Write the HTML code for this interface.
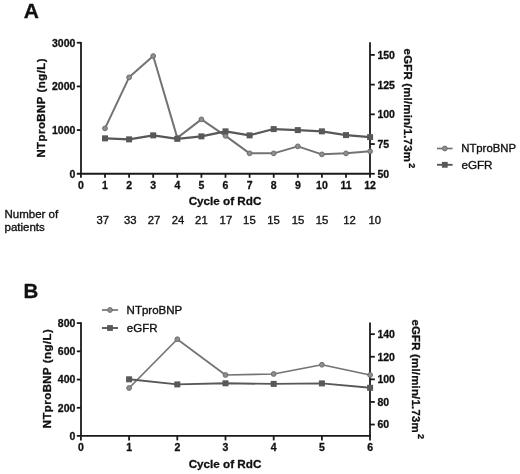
<!DOCTYPE html>
<html><head><meta charset="utf-8"><title>Figure</title>
<style>
html,body{margin:0;padding:0;background:#fff;}
body{width:520px;height:474px;overflow:hidden;font-family:"Liberation Sans",sans-serif;}
svg{display:block;will-change:transform;filter:blur(0.45px);}
text{font-family:"Liberation Sans",sans-serif;fill:#111;stroke:#111;stroke-width:0.3px;}
.b{font-weight:bold;}
.tk{font-weight:bold;font-size:10.5px;}
.lb{font-weight:bold;font-size:11.7px;font-kerning:none;}
.lg{font-size:11.3px;stroke-width:0.35px;}
.nm{font-size:11.3px;stroke-width:0.35px;}
.pl{font-weight:bold;font-size:20px;}
</style></head><body>
<svg width="520" height="474" viewBox="0 0 520 474">
<rect width="520" height="474" fill="#fff"/>

<text class="pl" x="23.8" y="18.3" style="font-size:21px">A</text>
<g stroke="#1a1a1a" stroke-width="1.8" fill="none">
<path d="M81 41.9 V173.8"/>
<path d="M76.8 173.75 H371"/>
<path d="M370 42.2 V177.8"/>
<path d="M76.8 130.08 H81"/>
<path d="M76.8 86.41 H81"/>
<path d="M76.8 42.74 H81"/>
<path d="M80.90 173.4 V177.8"/>
<path d="M105.00 173.4 V177.8"/>
<path d="M129.10 173.4 V177.8"/>
<path d="M153.20 173.4 V177.8"/>
<path d="M177.30 173.4 V177.8"/>
<path d="M201.40 173.4 V177.8"/>
<path d="M225.50 173.4 V177.8"/>
<path d="M249.60 173.4 V177.8"/>
<path d="M273.70 173.4 V177.8"/>
<path d="M297.80 173.4 V177.8"/>
<path d="M321.90 173.4 V177.8"/>
<path d="M346.00 173.4 V177.8"/>
<path d="M370 173.75 H374.8"/>
<path d="M370 144.04 H374.8"/>
<path d="M370 114.33 H374.8"/>
<path d="M370 84.62 H374.8"/>
<path d="M370 54.91 H374.8"/>
</g>
<text class="tk" x="75.4" y="177.65" text-anchor="end">0</text>
<text class="tk" x="75.4" y="133.98" text-anchor="end">1000</text>
<text class="tk" x="75.4" y="90.31" text-anchor="end">2000</text>
<text class="tk" x="75.4" y="46.64" text-anchor="end">3000</text>
<text class="tk" x="80.90" y="189" text-anchor="middle">0</text>
<text class="tk" x="105.00" y="189" text-anchor="middle">1</text>
<text class="tk" x="129.10" y="189" text-anchor="middle">2</text>
<text class="tk" x="153.20" y="189" text-anchor="middle">3</text>
<text class="tk" x="177.30" y="189" text-anchor="middle">4</text>
<text class="tk" x="201.40" y="189" text-anchor="middle">5</text>
<text class="tk" x="225.50" y="189" text-anchor="middle">6</text>
<text class="tk" x="249.60" y="189" text-anchor="middle">7</text>
<text class="tk" x="273.70" y="189" text-anchor="middle">8</text>
<text class="tk" x="297.80" y="189" text-anchor="middle">9</text>
<text class="tk" x="321.90" y="189" text-anchor="middle">10</text>
<text class="tk" x="346.00" y="189" text-anchor="middle">11</text>
<text class="tk" x="370.10" y="189" text-anchor="middle">12</text>
<text class="tk" x="377.4" y="177.65">50</text>
<text class="tk" x="377.4" y="147.94">75</text>
<text class="tk" x="377.4" y="118.23">100</text>
<text class="tk" x="377.4" y="88.52">125</text>
<text class="tk" x="377.4" y="58.81">150</text>
<text class="lb" transform="translate(45.3 107.8) rotate(-90)" text-anchor="middle" style="font-size:11.4px;letter-spacing:0.48px">NTproBNP (ng/L)</text>
<text class="lb" x="225" y="205" text-anchor="middle">Cycle of RdC</text>
<text class="lb" transform="translate(403.9 48.6) rotate(90)" style="font-size:11.4px;letter-spacing:0.22px">eGFR (ml/min/1.73m<tspan dx="1.2" dy="-5.2" style="font-size:9px">2</tspan></text>
<polyline points="105.00,128.35 129.10,77.35 153.20,56.05 177.30,137.85 201.40,119.35 225.50,135.85 249.60,153.35 273.70,153.35 297.80,146.35 321.90,154.35 346.00,153.35 370.10,151.35" fill="none" stroke="#737373" stroke-width="2.0" stroke-linejoin="round"/>
<circle cx="105.00" cy="128.35" r="2.4" fill="#8e8e8e" stroke="#6e6e6e" stroke-width="1"/>
<circle cx="129.10" cy="77.35" r="2.4" fill="#8e8e8e" stroke="#6e6e6e" stroke-width="1"/>
<circle cx="153.20" cy="56.05" r="2.4" fill="#8e8e8e" stroke="#6e6e6e" stroke-width="1"/>
<circle cx="177.30" cy="137.85" r="2.4" fill="#8e8e8e" stroke="#6e6e6e" stroke-width="1"/>
<circle cx="201.40" cy="119.35" r="2.4" fill="#8e8e8e" stroke="#6e6e6e" stroke-width="1"/>
<circle cx="225.50" cy="135.85" r="2.4" fill="#8e8e8e" stroke="#6e6e6e" stroke-width="1"/>
<circle cx="249.60" cy="153.35" r="2.4" fill="#8e8e8e" stroke="#6e6e6e" stroke-width="1"/>
<circle cx="273.70" cy="153.35" r="2.4" fill="#8e8e8e" stroke="#6e6e6e" stroke-width="1"/>
<circle cx="297.80" cy="146.35" r="2.4" fill="#8e8e8e" stroke="#6e6e6e" stroke-width="1"/>
<circle cx="321.90" cy="154.35" r="2.4" fill="#8e8e8e" stroke="#6e6e6e" stroke-width="1"/>
<circle cx="346.00" cy="153.35" r="2.4" fill="#8e8e8e" stroke="#6e6e6e" stroke-width="1"/>
<circle cx="370.10" cy="151.35" r="2.4" fill="#8e8e8e" stroke="#6e6e6e" stroke-width="1"/>
<polyline points="105.00,138.35 129.10,139.35 153.20,135.35 177.30,138.85 201.40,136.35 225.50,131.35 249.60,135.35 273.70,129.10 297.80,130.10 321.90,131.35 346.00,135.10 370.10,137.10" fill="none" stroke="#585858" stroke-width="2.1" stroke-linejoin="round"/>
<rect x="102.00" y="135.35" width="6" height="6" fill="#585858"/>
<rect x="126.10" y="136.35" width="6" height="6" fill="#585858"/>
<rect x="150.20" y="132.35" width="6" height="6" fill="#585858"/>
<rect x="174.30" y="135.85" width="6" height="6" fill="#585858"/>
<rect x="198.40" y="133.35" width="6" height="6" fill="#585858"/>
<rect x="222.50" y="128.35" width="6" height="6" fill="#585858"/>
<rect x="246.60" y="132.35" width="6" height="6" fill="#585858"/>
<rect x="270.70" y="126.10" width="6" height="6" fill="#585858"/>
<rect x="294.80" y="127.10" width="6" height="6" fill="#585858"/>
<rect x="318.90" y="128.35" width="6" height="6" fill="#585858"/>
<rect x="343.00" y="132.10" width="6" height="6" fill="#585858"/>
<rect x="367.10" y="134.10" width="6" height="6" fill="#585858"/>
<path d="M437 148.5 H452.6" stroke="#737373" stroke-width="1.7"/><circle cx="444.8" cy="148.5" r="2.4" fill="#8e8e8e" stroke="#6e6e6e" stroke-width="1"/>
<path d="M437 164.8 H452.6" stroke="#585858" stroke-width="1.9"/><rect x="441.9" y="161.9" width="5.8" height="5.8" fill="#585858"/>
<text class="lg" x="461.2" y="152.2" style="font-size:11.35px">NTproBNP</text>
<text class="lg" x="461.4" y="168.8" style="font-size:11.7px">eGFR</text>
<text class="nm" x="4.5" y="217.6" style="font-size:11.5px">Number of</text>
<text class="nm" x="4.5" y="230.6" style="font-size:11.5px">patients</text>
<text class="nm" x="102.75" y="223.8" text-anchor="middle">37</text>
<text class="nm" x="130.25" y="223.8" text-anchor="middle">33</text>
<text class="nm" x="154.00" y="223.8" text-anchor="middle">27</text>
<text class="nm" x="178.10" y="223.8" text-anchor="middle">24</text>
<text class="nm" x="201.40" y="223.8" text-anchor="middle">21</text>
<text class="nm" x="225.90" y="223.8" text-anchor="middle">17</text>
<text class="nm" x="249.40" y="223.8" text-anchor="middle">15</text>
<text class="nm" x="273.50" y="223.8" text-anchor="middle">15</text>
<text class="nm" x="298.10" y="223.8" text-anchor="middle">15</text>
<text class="nm" x="322.10" y="223.8" text-anchor="middle">15</text>
<text class="nm" x="349.60" y="223.8" text-anchor="middle">12</text>
<text class="nm" x="374.75" y="223.8" text-anchor="middle">10</text>
<text class="pl" x="23.4" y="298.2" style="font-size:20.5px">B</text>
<g stroke="#1a1a1a" stroke-width="1.8" fill="none">
<path d="M81 322.2 V436"/>
<path d="M76.8 435.85 H371"/>
<path d="M370 322.4 V440.4"/>
<path d="M76.8 407.78 H81"/>
<path d="M76.8 379.56 H81"/>
<path d="M76.8 351.34 H81"/>
<path d="M76.8 323.12 H81"/>
<path d="M80.90 436 V440.4"/>
<path d="M129.10 436 V440.4"/>
<path d="M177.30 436 V440.4"/>
<path d="M225.50 436 V440.4"/>
<path d="M273.70 436 V440.4"/>
<path d="M321.90 436 V440.4"/>
<path d="M370 424.55 H374.8"/>
<path d="M370 401.95 H374.8"/>
<path d="M370 379.35 H374.8"/>
<path d="M370 356.75 H374.8"/>
<path d="M370 334.15 H374.8"/>
</g>
<text class="tk" x="75.4" y="439.90" text-anchor="end">0</text>
<text class="tk" x="75.4" y="411.68" text-anchor="end">200</text>
<text class="tk" x="75.4" y="383.46" text-anchor="end">400</text>
<text class="tk" x="75.4" y="355.24" text-anchor="end">600</text>
<text class="tk" x="75.4" y="327.02" text-anchor="end">800</text>
<text class="tk" x="80.90" y="450.9" text-anchor="middle">0</text>
<text class="tk" x="129.10" y="450.9" text-anchor="middle">1</text>
<text class="tk" x="177.30" y="450.9" text-anchor="middle">2</text>
<text class="tk" x="225.50" y="450.9" text-anchor="middle">3</text>
<text class="tk" x="273.70" y="450.9" text-anchor="middle">4</text>
<text class="tk" x="321.90" y="450.9" text-anchor="middle">5</text>
<text class="tk" x="370.10" y="450.9" text-anchor="middle">6</text>
<text class="tk" x="377.4" y="428.45">60</text>
<text class="tk" x="377.4" y="405.85">80</text>
<text class="tk" x="377.4" y="383.25">100</text>
<text class="tk" x="377.4" y="360.65">120</text>
<text class="tk" x="377.4" y="338.05">140</text>
<text class="lb" transform="translate(50.8 378.5) rotate(-90)" text-anchor="middle" style="font-size:11.4px;letter-spacing:0.48px">NTproBNP (ng/L)</text>
<text class="lb" x="225" y="467.8" text-anchor="middle">Cycle of RdC</text>
<text class="lb" transform="translate(412.2 319.4) rotate(90)" style="font-size:11.4px;letter-spacing:0.22px">eGFR (ml/min/1.73m<tspan dx="1.2" dy="-5.8" style="font-size:9px">2</tspan></text>
<polyline points="129.10,388.00 177.30,339.25 225.50,375.00 273.70,374.00 321.90,364.75 370.10,375.00" fill="none" stroke="#737373" stroke-width="1.7" stroke-linejoin="round"/>
<circle cx="129.10" cy="388.00" r="2.4" fill="#8e8e8e" stroke="#6e6e6e" stroke-width="1"/>
<circle cx="177.30" cy="339.25" r="2.4" fill="#8e8e8e" stroke="#6e6e6e" stroke-width="1"/>
<circle cx="225.50" cy="375.00" r="2.4" fill="#8e8e8e" stroke="#6e6e6e" stroke-width="1"/>
<circle cx="273.70" cy="374.00" r="2.4" fill="#8e8e8e" stroke="#6e6e6e" stroke-width="1"/>
<circle cx="321.90" cy="364.75" r="2.4" fill="#8e8e8e" stroke="#6e6e6e" stroke-width="1"/>
<circle cx="370.10" cy="375.00" r="2.4" fill="#8e8e8e" stroke="#6e6e6e" stroke-width="1"/>
<polyline points="129.10,379.30 177.30,384.40 225.50,383.30 273.70,383.90 321.90,383.40 370.10,387.80" fill="none" stroke="#585858" stroke-width="1.9" stroke-linejoin="round"/>
<rect x="126.10" y="376.30" width="6" height="6" fill="#585858"/>
<rect x="174.30" y="381.40" width="6" height="6" fill="#585858"/>
<rect x="222.50" y="380.30" width="6" height="6" fill="#585858"/>
<rect x="270.70" y="380.90" width="6" height="6" fill="#585858"/>
<rect x="318.90" y="380.40" width="6" height="6" fill="#585858"/>
<rect x="367.10" y="384.80" width="6" height="6" fill="#585858"/>
<path d="M102 310 H118" stroke="#737373" stroke-width="1.7"/><circle cx="110" cy="310" r="2.4" fill="#8e8e8e" stroke="#6e6e6e" stroke-width="1"/>
<path d="M102 328 H118" stroke="#585858" stroke-width="1.9"/><rect x="107.1" y="325.1" width="5.8" height="5.8" fill="#585858"/>
<text class="lg" x="126.6" y="314.1" style="font-size:11.5px">NTproBNP</text>
<text class="lg" x="126.8" y="332.1" style="font-size:11.5px">eGFR</text>
</svg></body></html>
